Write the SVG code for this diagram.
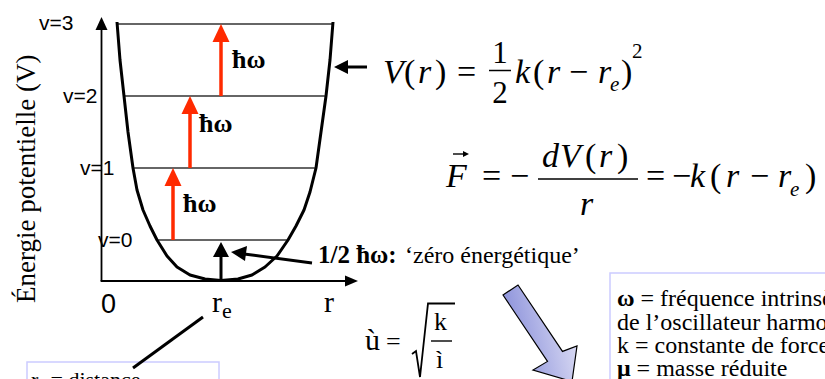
<svg xmlns="http://www.w3.org/2000/svg" width="825" height="379" viewBox="0 0 825 379">
<style>
.sans{font-family:"Liberation Sans",Arial,sans-serif;fill:#000}
.serif{font-family:"Liberation Serif","Times New Roman",serif;fill:#000}
.it{font-style:italic}
.b{font-weight:bold}
.lvl{stroke:#333;stroke-width:1.5;fill:none}
.red{stroke:#FF2A00;stroke-width:3.5;fill:none}
.redh{fill:#FF2A00}
.blk{stroke:#000;stroke-width:3;fill:none}
.box{fill:#fff;stroke:#CCCCFF;stroke-width:1.5}
</style>
<defs>
<linearGradient id="bluegrad" x1="0" y1="0.3" x2="1" y2="0">
<stop offset="0" stop-color="#8A90DA"/>
<stop offset="1" stop-color="#E8E8F8"/>
</linearGradient>
</defs>
<rect width="825" height="379" fill="#fff"/>

<g id="axes">
<line x1="101.5" y1="281" x2="101.5" y2="28" stroke="#000" stroke-width="1.8"/>
<polygon points="101.5,17 95.5,30 107.5,30" fill="#000"/>
<line x1="100.6" y1="281" x2="346" y2="281" stroke="#000" stroke-width="1.8"/>
<polygon points="358,281 345,275.5 345,286.5" fill="#000"/>
<text class="sans" x="101" y="313" font-size="27">0</text>
<text class="serif" x="212" y="312" font-size="30">r<tspan font-size="22" dy="6">e</tspan></text>
<text class="serif" x="324" y="312" font-size="30">r</text>
<text class="serif" transform="translate(35,303) rotate(-90)" font-size="27">Énergie potentielle (V)</text>
</g>

<g id="levels">
<line class="lvl" x1="117" y1="24" x2="333" y2="24"/>
<line class="lvl" x1="124" y1="96" x2="326" y2="96"/>
<line class="lvl" x1="133" y1="168" x2="316" y2="168"/>
<line class="lvl" x1="157" y1="240" x2="288" y2="240"/>
<text class="sans" x="39" y="30" font-size="21">v=3</text>
<text class="sans" x="63" y="103" font-size="21">v=2</text>
<text class="sans" x="80" y="175" font-size="21">v=1</text>
<text class="sans" x="98" y="247" font-size="21">v=0</text>
</g>

<g id="potential-curve">
<polyline fill="none" stroke="#000" stroke-width="3" stroke-linejoin="round" points="117,22 120,60 124,96 128,132 133,168 137,190 143,210 150,226 157,240 167,256 177,267 190,275 205,279 221,280.5 238,279 252,275 265,267 277,256 288,240 296,226 304,210 310,192 316,168 321,132 326,96 330,60 333,22"/>
</g>

<g id="quanta">
<line class="red" x1="173" y1="240" x2="173" y2="182"/>
<polygon class="redh" points="173,168 164.5,186 181.5,186"/>
<text class="serif b" x="183" y="212" font-size="26">ħω</text>
<line class="red" x1="190" y1="168" x2="190" y2="110"/>
<polygon class="redh" points="190,96 181.5,114 198.5,114"/>
<text class="serif b" x="199" y="132" font-size="26">ħω</text>
<line class="red" x1="221" y1="96" x2="221" y2="38"/>
<polygon class="redh" points="221,24 212.5,42 229.5,42"/>
<text class="serif b" x="232" y="68" font-size="26">ħω</text>
</g>

<g id="zero-point">
<text class="serif b" x="318" y="263" font-size="25">1/2 ħω:</text>
<text class="serif" x="405" y="263" font-size="24">‘zéro énergétique’</text>
</g>

<g id="potential-formula">
<text class="serif it" x="383" y="83" font-size="34">V</text>
<text class="serif" x="404" y="83" font-size="34">(</text>
<text class="serif it" x="418" y="83" font-size="34">r</text>
<text class="serif" x="435" y="83" font-size="34">)</text>
<text class="serif" x="457" y="83" font-size="34">=</text>
<text class="serif" x="500" y="63" font-size="31" text-anchor="middle">1</text>
<line x1="489" y1="70.5" x2="511" y2="70.5" stroke="#000" stroke-width="1.5"/>
<text class="serif" x="500" y="103" font-size="31" text-anchor="middle">2</text>
<text class="serif it" x="515" y="83" font-size="34">k</text>
<text class="serif" x="533" y="83" font-size="34">(</text>
<text class="serif it" x="547" y="83" font-size="34">r</text>
<text class="serif" x="569" y="83" font-size="34">−</text>
<text class="serif it" x="598" y="83" font-size="34">r</text>
<text class="serif it" x="610" y="91" font-size="21">e</text>
<text class="serif" x="621" y="83" font-size="34">)</text>
<text class="serif" x="632" y="58" font-size="21">2</text>
</g>

<g id="force-formula">
<text class="serif it" x="446" y="187" font-size="34">F</text>
<line x1="453" y1="154" x2="467" y2="154" stroke="#000" stroke-width="1.4"/>
<polygon points="469,154 463,151 463,157" fill="#000"/>
<text class="serif" x="482" y="187" font-size="34">=</text>
<text class="serif" x="510" y="187" font-size="34">−</text>
<text class="serif it" x="542" y="167" font-size="34">d</text>
<text class="serif it" x="560" y="167" font-size="34">V</text>
<text class="serif" x="585" y="167" font-size="34">(</text>
<text class="serif it" x="599" y="167" font-size="34">r</text>
<text class="serif" x="617" y="167" font-size="34">)</text>
<line x1="538" y1="179" x2="638" y2="179" stroke="#000" stroke-width="1.5"/>
<text class="serif it" x="580" y="215" font-size="34">r</text>
<text class="serif" x="646" y="187" font-size="34">=</text>
<text class="serif" x="672" y="187" font-size="34">−</text>
<text class="serif it" x="690" y="187" font-size="34">k</text>
<text class="serif" x="710" y="187" font-size="34">(</text>
<text class="serif it" x="726" y="187" font-size="34">r</text>
<text class="serif" x="750" y="187" font-size="34">−</text>
<text class="serif it" x="778" y="187" font-size="34">r</text>
<text class="serif it" x="790" y="196" font-size="21">e</text>
<text class="serif" x="805" y="187" font-size="34">)</text>
</g>

<g id="omega-formula">
<text class="serif" x="365" y="350" font-size="30">ù</text>
<text class="serif" x="386" y="350" font-size="26">=</text>
<polyline points="412,354 416,351 420,377 428,303.5 455,303.5" fill="none" stroke="#000" stroke-width="1.8" stroke-linejoin="miter"/>
<text class="serif" x="434" y="330" font-size="26">k</text>
<line x1="431" y1="341" x2="452" y2="341" stroke="#000" stroke-width="1.4"/>
<text class="serif" x="436" y="368" font-size="26">ì</text>
</g>

<g id="block-arrow">
<polygon points="503,295 518,285 562.5,351.4 577,346 572,381.5 533,370 547.5,361.4" fill="url(#bluegrad)" stroke="#000" stroke-width="1.2" stroke-linejoin="miter"/>
</g>

<g id="legend-box">
<rect class="box" x="610" y="273" width="300" height="130"/>
<text class="serif" x="617" y="306" font-size="24"><tspan font-weight="bold">ω</tspan> = fréquence intrinsèque</text>
<text class="serif" x="617" y="330" font-size="24">de l’oscillateur harmonique</text>
<text class="serif" x="617" y="353" font-size="24">k = constante de force</text>
<text class="serif" x="617" y="376" font-size="24"><tspan font-weight="bold">μ</tspan> = masse réduite</text>
</g>

<g id="re-box">
<rect class="box" x="27" y="362" width="192" height="40"/>
<text class="serif" x="31" y="387" font-size="22">r<tspan font-size="15" dy="4">e</tspan><tspan dy="-4"> = distance</tspan></text>
</g>

<g id="connectors">
<line class="blk" x1="367" y1="67" x2="346" y2="67"/>
<polygon points="334,67 348,60 348,74" fill="#000"/>
<line class="blk" x1="312" y1="263" x2="244" y2="254"/>
<polygon points="231,252 247,246 245,261" fill="#000"/>
<line class="blk" x1="221" y1="280" x2="221" y2="255"/>
<polygon points="221,242 213,257 229,257" fill="#000"/>
<line class="blk" x1="203" y1="317" x2="133" y2="368"/>
</g>
</svg>
